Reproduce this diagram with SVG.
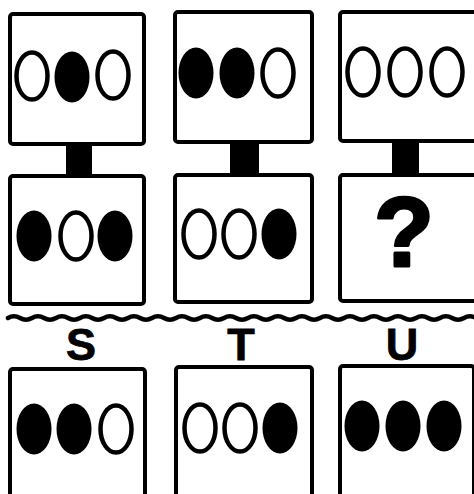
<svg xmlns="http://www.w3.org/2000/svg" width="474" height="494" viewBox="0 0 474 494">
<style>
.box{fill:#fff;stroke:#000;stroke-width:4;}
.stem{fill:#000;}
.o{fill:none;stroke:#000;stroke-width:4.5;}
.f{fill:#000;}
.lbl{font-family:"Liberation Sans",Arial,sans-serif;font-weight:bold;font-size:45px;fill:#000;text-anchor:middle;stroke:#000;stroke-width:0.8;}
.q{font-family:"Liberation Sans",Arial,sans-serif;font-weight:bold;font-size:98px;fill:#000;text-anchor:middle;stroke:#000;stroke-width:3;stroke-linejoin:round;}
</style>
<rect width="474" height="494" fill="#fff"/>
<g id="connectors">
<rect class="stem" x="66" y="143" width="26" height="34"/>
<rect class="stem" x="230" y="141" width="29" height="35"/>
<rect class="stem" x="392" y="140" width="27" height="36"/>
<path d="M8 318 q6 -3.5 12 0 t12 0 t12 0 t12 0 t12 0 t12 0 t12 0 t12 0 t12 0 t12 0 t12 0 t12 0 t12 0 t12 0 t12 0 t12 0 t12 0 t12 0 t12 0 t12 0 t12 0 t12 0 t12 0 t12 0 t12 0 t12 0 t12 0 t12 0 t12 0 t12 0 t12 0 t12 0 t12 0 t12 0 t12 0 t12 0 t12 0 t12 0 t12 0 t12 0" fill="none" stroke="#000" stroke-width="4.5" stroke-linecap="round"/>
</g>
<g id="boxA">
<rect class="box" x="10" y="14" width="134" height="130" rx="3"/>
<ellipse class="o" cx="32" cy="76" rx="15.5" ry="23.5"/>
<ellipse class="f" cx="72" cy="77" rx="17.5" ry="25.5"/>
<ellipse class="o" cx="113" cy="75" rx="15.5" ry="23.5"/>
</g>
<g id="boxB">
<rect class="box" x="175" y="12" width="137" height="130" rx="3"/>
<ellipse class="f" cx="196" cy="73" rx="17.5" ry="25.5"/>
<ellipse class="f" cx="237" cy="73" rx="17.5" ry="25.5"/>
<ellipse class="o" cx="278" cy="73" rx="15.5" ry="23.5"/>
</g>
<g id="boxC">
<rect class="box" x="340" y="12" width="142" height="129" rx="3"/>
<ellipse class="o" cx="363" cy="72" rx="15.5" ry="23.5"/>
<ellipse class="o" cx="405" cy="72" rx="15.5" ry="23.5"/>
<ellipse class="o" cx="447" cy="72" rx="15.5" ry="23.5"/>
</g>
<g id="boxD">
<rect class="box" x="10" y="176" width="134" height="128" rx="3"/>
<ellipse class="f" cx="34" cy="236" rx="17.5" ry="25.5"/>
<ellipse class="o" cx="76" cy="236" rx="15.5" ry="23.5"/>
<ellipse class="f" cx="115" cy="236" rx="17.5" ry="25.5"/>
</g>
<g id="boxE">
<rect class="box" x="175" y="175" width="137" height="127" rx="3"/>
<ellipse class="o" cx="199" cy="234" rx="15.5" ry="23.5"/>
<ellipse class="o" cx="239" cy="234" rx="15.5" ry="23.5"/>
<ellipse class="f" cx="279" cy="234" rx="17.5" ry="25.5"/>
</g>
<g id="boxF">
<rect class="box" x="340" y="175" width="142" height="126" rx="3"/>
<text class="q" x="404" y="266">?</text>
</g>
<g id="labels">
<text class="lbl" x="81" y="360">S</text>
<text class="lbl" x="241" y="360">T</text>
<text class="lbl" x="402" y="360">U</text>
</g>
<g id="boxS">
<rect class="box" x="10" y="369" width="135" height="140" rx="3"/>
<ellipse class="f" cx="34" cy="429" rx="17.5" ry="25.5"/>
<ellipse class="f" cx="74" cy="429" rx="17.5" ry="25.5"/>
<ellipse class="o" cx="116" cy="429" rx="15.5" ry="23.5"/>
</g>
<g id="boxT">
<rect class="box" x="176" y="367" width="136" height="140" rx="3"/>
<ellipse class="o" cx="200" cy="428" rx="15.5" ry="23.5"/>
<ellipse class="o" cx="240" cy="428" rx="15.5" ry="23.5"/>
<ellipse class="f" cx="280" cy="428" rx="17.5" ry="25.5"/>
</g>
<g id="boxU">
<rect class="box" x="340" y="366" width="134" height="140" rx="3"/>
<ellipse class="f" cx="362" cy="426" rx="17.5" ry="25.5"/>
<ellipse class="f" cx="403" cy="426" rx="17.5" ry="25.5"/>
<ellipse class="f" cx="444" cy="426" rx="17.5" ry="25.5"/>
</g>
</svg>
